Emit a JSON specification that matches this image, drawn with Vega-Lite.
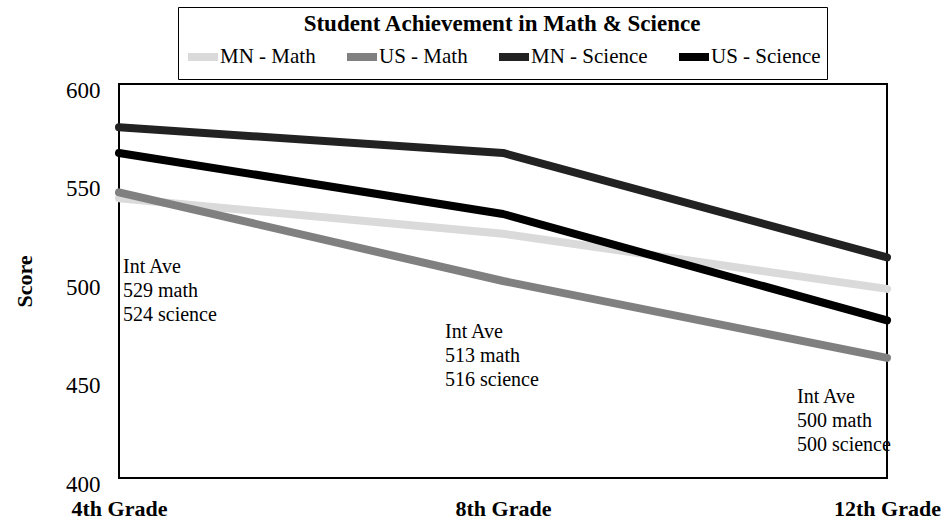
{
  "$schema": "https://vega.github.io/schema/vega-lite/v6.json",
  "width": 768,
  "height": 394,
  "autosize": "none",
  "padding": {"left": 119, "top": 84, "right": 60, "bottom": 43},
  "background": "white",
  "config": {
    "font": "Liberation Serif",
    "view": {"stroke": "black", "strokeWidth": 2}
  },
  "layer": [
    {
      "data": {
        "values": [
          {"grade": "4th Grade", "series": "MN - Math", "score": 542},
          {"grade": "8th Grade", "series": "MN - Math", "score": 524},
          {"grade": "12th Grade", "series": "MN - Math", "score": 496},
          {"grade": "4th Grade", "series": "US - Math", "score": 545},
          {"grade": "8th Grade", "series": "US - Math", "score": 500},
          {"grade": "12th Grade", "series": "US - Math", "score": 461},
          {"grade": "4th Grade", "series": "MN - Science", "score": 578},
          {"grade": "8th Grade", "series": "MN - Science", "score": 565},
          {"grade": "12th Grade", "series": "MN - Science", "score": 512},
          {"grade": "4th Grade", "series": "US - Science", "score": 565},
          {"grade": "8th Grade", "series": "US - Science", "score": 534},
          {"grade": "12th Grade", "series": "US - Science", "score": 480}
        ]
      },
      "mark": {"type": "line", "strokeWidth": 8, "strokeCap": "round", "strokeJoin": "round"},
      "encoding": {
        "x": {
          "field": "grade",
          "type": "ordinal",
          "sort": ["4th Grade", "8th Grade", "12th Grade"],
          "scale": {"type": "point", "padding": 0, "domain": ["4th Grade", "8th Grade", "12th Grade"]},
          "axis": {
            "title": null,
            "domain": false,
            "ticks": false,
            "labelAngle": 0,
            "labelFont": "Liberation Serif",
            "labelFontSize": 22,
            "labelFontWeight": "bold",
            "labelColor": "black",
            "labelPadding": 30,
            "labelBaseline": "middle"
          }
        },
        "y": {
          "field": "score",
          "type": "quantitative",
          "scale": {"domain": [400, 600], "nice": false, "zero": false},
          "axis": {
            "title": "Score",
            "titleFont": "Liberation Serif",
            "titleFontSize": 22,
            "titleFontWeight": "bold",
            "titleColor": "black",
            "titlePadding": 29,
            "values": [400, 450, 500, 550, 600],
            "grid": false,
            "domain": false,
            "ticks": false,
            "labelFont": "Liberation Serif",
            "labelFontSize": 23,
            "labelColor": "black",
            "labelPadding": 19,
            "labelBaseline": "middle",
            "labelOffset": 6
          }
        },
        "color": {
          "field": "series",
          "type": "nominal",
          "sort": ["MN - Math", "US - Math", "MN - Science", "US - Science"],
          "scale": {
            "domain": ["MN - Math", "US - Math", "MN - Science", "US - Science"],
            "range": ["#dadada", "#808080", "#222222", "#000000"]
          },
          "legend": {
            "title": "Student Achievement in Math & Science",
            "orient": "none",
            "legendX": 59,
            "legendY": -77,
            "direction": "horizontal",
            "columns": 4,
            "titleAnchor": "middle",
            "titleFont": "Liberation Serif",
            "titleFontSize": 23,
            "titleFontWeight": "bold",
            "titleColor": "black",
            "titlePadding": 2,
            "titleLimit": 800,
            "labelFont": "Liberation Serif",
            "labelFontSize": 21,
            "labelColor": "black",
            "labelOffset": -2,
            "labelLimit": 300,
            "symbolType": "stroke",
            "symbolSize": 900,
            "symbolStrokeWidth": 8,
            "columnPadding": 15,
            "padding": 6,
            "strokeColor": "black",
            "fillColor": "white"
          }
        },
        "detail": {"field": "series"}
      }
    },
    {
      "data": {"values": [{"grade": "4th Grade", "score": 512, "note": "Int Ave\n529 math\n524 science"}]},
      "mark": {"type": "text", "align": "left", "baseline": "top", "dx": 4, "lineBreak": "\n", "lineHeight": 24, "fontSize": 20, "font": "Liberation Serif", "color": "black"},
      "encoding": {
        "x": {"field": "grade", "type": "ordinal"},
        "y": {"field": "score", "type": "quantitative"},
        "text": {"field": "note"}
      }
    },
    {
      "data": {"values": [{"grade": "8th Grade", "score": 479, "note": "Int Ave\n513 math\n516 science"}]},
      "mark": {"type": "text", "align": "left", "baseline": "top", "dx": -58, "lineBreak": "\n", "lineHeight": 24, "fontSize": 20, "font": "Liberation Serif", "color": "black"},
      "encoding": {
        "x": {"field": "grade", "type": "ordinal"},
        "y": {"field": "score", "type": "quantitative"},
        "text": {"field": "note"}
      }
    },
    {
      "data": {"values": [{"grade": "12th Grade", "score": 446, "note": "Int Ave\n500 math\n500 science"}]},
      "mark": {"type": "text", "align": "left", "baseline": "top", "dx": -90, "lineBreak": "\n", "lineHeight": 24, "fontSize": 20, "font": "Liberation Serif", "color": "black"},
      "encoding": {
        "x": {"field": "grade", "type": "ordinal"},
        "y": {"field": "score", "type": "quantitative"},
        "text": {"field": "note"}
      }
    }
  ]
}
